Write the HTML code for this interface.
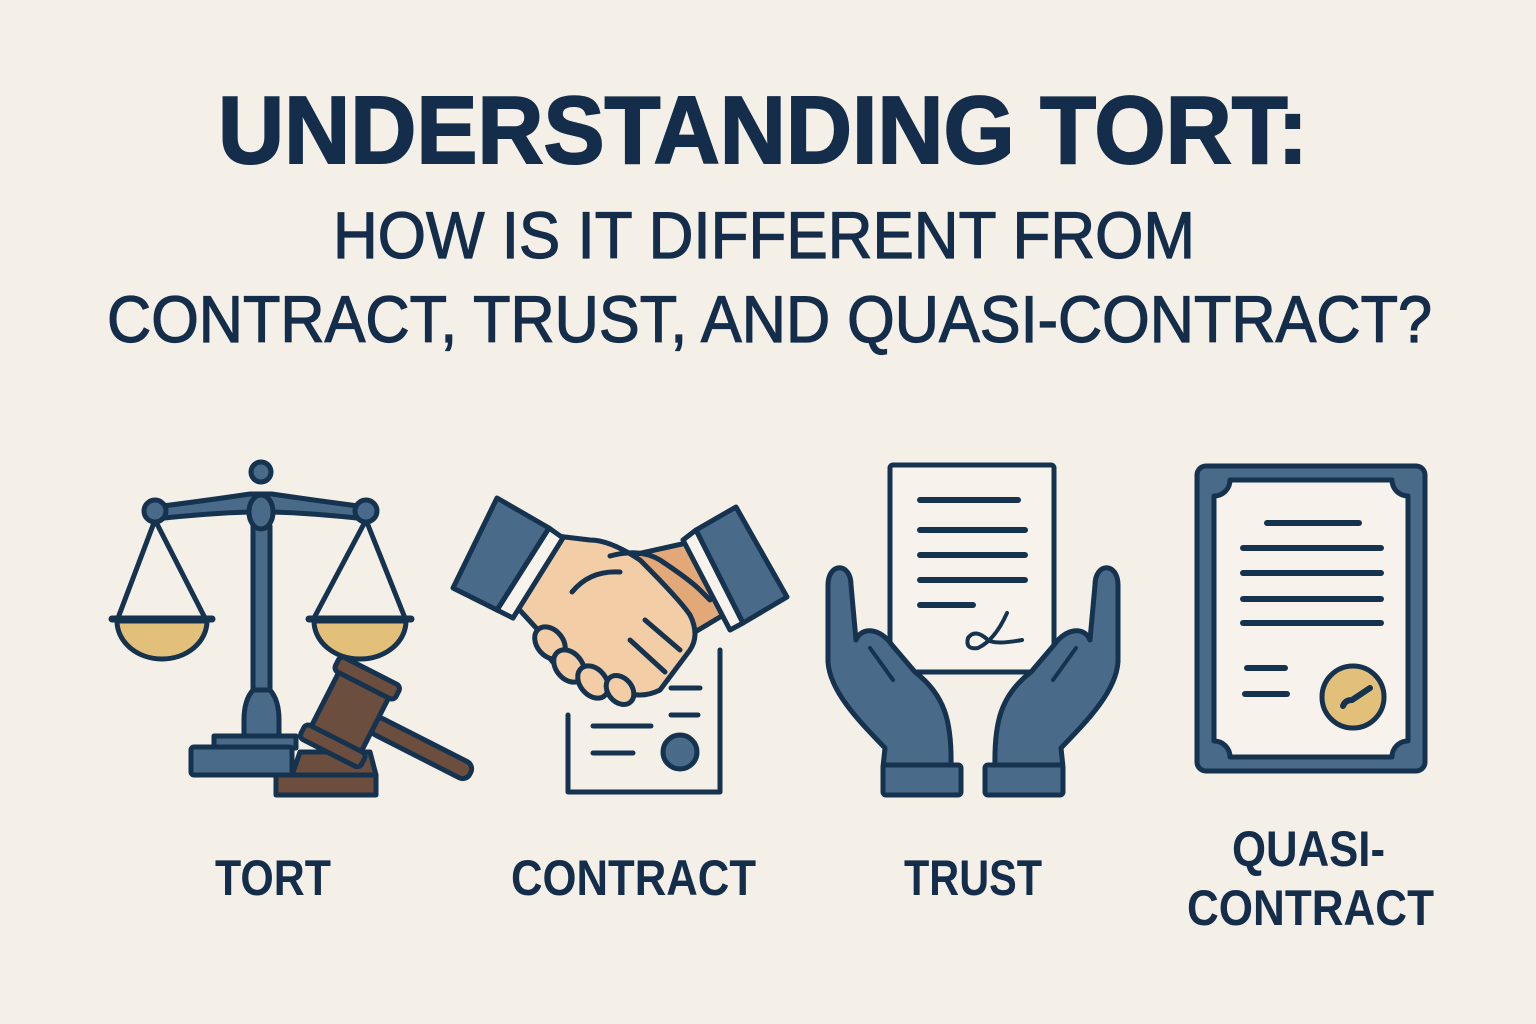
<!DOCTYPE html>
<html><head><meta charset="utf-8"><style>
html,body{margin:0;padding:0;background:#f4efe7;}
svg{display:block}
text{font-family:"Liberation Sans",sans-serif;fill:#142d4a}
</style></head><body>
<svg width="1536" height="1024" viewBox="0 0 1536 1024" xmlns="http://www.w3.org/2000/svg">
<rect width="1536" height="1024" fill="#f4efe7"/>
<text x="218" y="163" font-size="96" font-weight="bold" textLength="1090" lengthAdjust="spacingAndGlyphs" stroke="#142d4a" stroke-width="2">UNDERSTANDING TORT:</text>
<text x="333" y="258" font-size="66" textLength="862" lengthAdjust="spacingAndGlyphs" stroke="#142d4a" stroke-width="1.2">HOW IS IT DIFFERENT FROM</text>
<text x="107" y="342" font-size="66" textLength="1325" lengthAdjust="spacingAndGlyphs" stroke="#142d4a" stroke-width="1.2">CONTRACT, TRUST, AND QUASI-CONTRACT?</text>

<text x="215" y="895" font-size="50" font-weight="bold" textLength="116" lengthAdjust="spacingAndGlyphs">TORT</text>
<text x="511" y="895" font-size="50" font-weight="bold" textLength="245" lengthAdjust="spacingAndGlyphs">CONTRACT</text>
<text x="904" y="895" font-size="50" font-weight="bold" textLength="138" lengthAdjust="spacingAndGlyphs">TRUST</text>
<text x="1232" y="866" font-size="50" font-weight="bold" textLength="153" lengthAdjust="spacingAndGlyphs">QUASI-</text>
<text x="1187" y="925" font-size="50" font-weight="bold" textLength="247" lengthAdjust="spacingAndGlyphs">CONTRACT</text>

<g stroke="#15324f" stroke-width="5" stroke-linejoin="round" stroke-linecap="round">
<!-- SCALES -->
<line x1="155" y1="520" x2="118" y2="618" fill="none"/>
<line x1="155" y1="520" x2="205" y2="618" fill="none"/>
<line x1="366" y1="520" x2="314" y2="618" fill="none"/>
<line x1="366" y1="520" x2="405" y2="618" fill="none"/>
<path d="M117,621 A45,38 0 0 0 207,621 Z" fill="#e3c07a"/>
<path d="M314,621 A46,38 0 0 0 406,621 Z" fill="#e3c07a"/>
<line x1="112" y1="619" x2="212" y2="619" stroke-width="7"/>
<line x1="309" y1="619" x2="411" y2="619" stroke-width="7"/>
<path d="M155,507 Q210,500 250,494 L272,494 Q312,500 366,507 L366,519 Q312,513 272,512 L250,512 Q210,513 155,519 Z" fill="#4a6a8a"/>
<circle cx="155" cy="511" r="11" fill="#4a6a8a"/>
<circle cx="366" cy="511" r="11" fill="#4a6a8a"/>
<circle cx="261" cy="472" r="10" fill="#4a6a8a"/>
<rect x="253" y="526" width="17" height="166" fill="#4a6a8a"/>
<path d="M253,690 Q244,700 244,720 L244,738 L279,738 L279,720 Q279,700 270,690 Z" fill="#4a6a8a"/>
<ellipse cx="261" cy="512" rx="12" ry="17" fill="#4a6a8a"/>
<rect x="214" y="736" width="82" height="12" fill="#4a6a8a"/>
<rect x="191" y="747" width="101" height="28" rx="3" fill="#4a6a8a"/>
<path d="M292,775 L300,752 L370,752 L376,775 Z" fill="#6b4e3d"/>
<rect x="276" y="775" width="100" height="20" fill="#6b4e3d"/>
<g transform="translate(350,712) rotate(27)">
<rect x="25" y="-9" width="110" height="18" rx="8" fill="#6b4e3d"/>
<rect x="-28" y="-42" width="56" height="84" rx="4" fill="#6b4e3d"/>
<rect x="-34" y="-46" width="68" height="16" rx="5" fill="#6b4e3d"/>
<rect x="-34" y="30" width="68" height="16" rx="5" fill="#6b4e3d"/>
</g>

<!-- HANDSHAKE + doc -->
<path d="M568,715 L568,792 L720,792 L720,650" fill="none" stroke-width="5"/>
<line x1="671" y1="688" x2="700" y2="688"/>
<line x1="671" y1="715" x2="698" y2="715"/>
<line x1="593" y1="726" x2="651" y2="726"/>
<line x1="593" y1="753" x2="633" y2="753"/>
<circle cx="680" cy="752" r="17" fill="#4a6a8a"/>
<path d="M700,540 L610,560 Q585,575 572,590 Q565,610 585,610 L610,590 Q640,605 690,635 L735,608 Z" fill="#e2a878"/>
<path d="M548,535 L590,540 Q610,540 640,560 Q680,600 690,615 Q700,635 690,650 L660,690 Q640,700 620,690 Q590,690 560,670 Q540,650 538,630 L515,605 Z" fill="#f3cda5"/>
<path d="M610,556 Q640,548 660,560 Q690,580 700,590 L710,600" fill="none"/>
<path d="M572,592 Q590,570 620,572" fill="none"/>
<line x1="645" y1="620" x2="680" y2="650" />
<line x1="630" y1="640" x2="665" y2="672" />
<ellipse cx="550" cy="643" rx="13" ry="18" fill="#f3cda5" transform="rotate(-40 550 643)"/>
<ellipse cx="569" cy="666" rx="13" ry="18" fill="#f3cda5" transform="rotate(-40 569 666)"/>
<ellipse cx="593" cy="682" rx="13" ry="18" fill="#f3cda5" transform="rotate(-40 593 682)"/>
<ellipse cx="620" cy="690" rx="12" ry="16" fill="#f3cda5" transform="rotate(-40 620 690)"/>
<polygon points="549,528 563,538 513,618 497,610" fill="#f7f3ec"/>
<polygon points="696,530 683,540 730,630 743,623" fill="#f7f3ec"/>
<polygon points="497,498 549,528 497,610 453,588" fill="#4a6a8a"/>
<polygon points="696,530 736,507 787,597 743,623" fill="#4a6a8a"/>

<!-- TRUST -->
<rect x="890" y="465" width="164" height="207" rx="3" fill="#f7f3ec"/>
<g stroke-width="6">
<line x1="920" y1="500" x2="1018" y2="500"/>
<line x1="920" y1="530" x2="1025" y2="530"/>
<line x1="920" y1="555" x2="1025" y2="555"/>
<line x1="920" y1="580" x2="1025" y2="580"/>
<line x1="920" y1="605" x2="973" y2="605"/>
</g>
<path d="M1007,613 Q995,640 978,648 Q965,650 968,638 Q975,628 988,640 Q995,645 1022,640" fill="none" stroke-width="4"/>
<g id="lh">
<path d="M883,767 L885,748 C860,722 830,692 828,662 L828,585 C828,562 851,562 851,585 L856,640 C862,626 880,628 892,645 L915,672 C945,695 952,722 951,767 Z" fill="#4a6a8a"/>
<line x1="870" y1="648" x2="893" y2="680" stroke-width="4"/>
<rect x="883" y="765" width="78" height="30" rx="3" fill="#4a6a8a"/>
</g>
<use href="#lh" transform="translate(1946,0) scale(-1,1)"/>

<!-- QUASI -->
<rect x="1197" y="466" width="228" height="305" rx="9" fill="#4a6a8a"/>
<path d="M1230,480 L1392,480 A16,16 0 0 0 1408,496 L1408,741 A16,16 0 0 0 1392,757 L1230,757 A16,16 0 0 0 1214,741 L1214,496 A16,16 0 0 0 1230,480 Z" fill="#f7f3ec"/>
<g stroke-width="6">
<line x1="1267" y1="523" x2="1359" y2="523"/>
<line x1="1243" y1="548" x2="1381" y2="548"/>
<line x1="1243" y1="573" x2="1381" y2="573"/>
<line x1="1243" y1="599" x2="1381" y2="599"/>
<line x1="1243" y1="623" x2="1381" y2="623"/>
<line x1="1247" y1="668" x2="1285" y2="668"/>
<line x1="1245" y1="694" x2="1287" y2="694"/>
</g>
<circle cx="1353" cy="697" r="31" fill="#e3c07a"/>
<path d="M1343,706 Q1345,700 1352,700 L1370,688" fill="none" stroke-width="6"/>
</g>
</svg>
</body></html>
